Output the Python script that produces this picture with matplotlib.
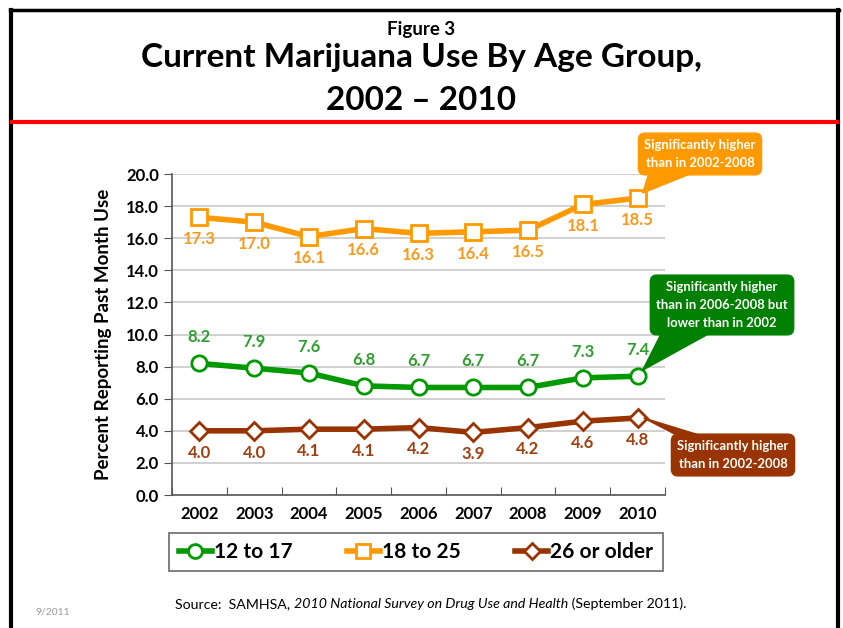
import matplotlib.pyplot as plt
from matplotlib.lines import Line2D
from matplotlib.patches import Polygon

plt.rcParams['font.family'] = ['Lato', 'DejaVu Sans']

years = ['2002', '2003', '2004', '2005', '2006', '2007', '2008', '2009', '2010']
age_12_17 = [8.2, 7.9, 7.6, 6.8, 6.7, 6.7, 6.7, 7.3, 7.4]
age_18_25 = [17.3, 17.0, 16.1, 16.6, 16.3, 16.4, 16.5, 18.1, 18.5]
age_26_up = [4.0, 4.0, 4.1, 4.1, 4.2, 3.9, 4.2, 4.6, 4.8]
yticks = [0, 2, 4, 6, 8, 10, 12, 14, 16, 18, 20]

green, orange, brown = '#009900', '#FF9900', '#993300'
green_txt, orange_txt, brown_txt = '#2E9E2E', '#F79A1E', '#A0400F'

W, H = 843, 628
fig = plt.figure(figsize=(W / 100, H / 100), dpi=100)

def fx(px):
    return px / W

def fy(py):
    return 1 - py / H

# outer frame + red rule
fig.add_artist(Line2D([fx(11), fx(11)], [0, fy(10)], color='black', lw=3))
fig.add_artist(Line2D([fx(838), fx(838)], [0, fy(10)], color='black', lw=3))
fig.add_artist(Line2D([fx(10), fx(839)], [fy(10), fy(10)], color='black', lw=2.5))
fig.add_artist(Line2D([fx(12), fx(837)], [fy(122), fy(122)], color='#FF0000', lw=3))

fig.text(0.5, fy(30), 'Figure 3', ha='center', va='center', fontsize=13.5, fontweight='bold')
fig.text(0.5, fy(58), 'Current Marijuana Use By Age Group,', ha='center', va='center',
         fontsize=24, fontweight='bold')
fig.text(0.5, fy(100), '2002 \u2013 2010', ha='center', va='center', fontsize=24, fontweight='bold')

ax = fig.add_axes([fx(172), fy(495), fx(665) - fx(172), fy(174) - fy(495)])
x = [i + 0.5 for i in range(len(years))]

ax.plot(x, age_12_17, color=green, lw=4, marker='o', ms=11, mfc='white', mec=green, mew=2, zorder=3)
ax.plot(x, age_18_25, color=orange, lw=4, marker='s', ms=11, mfc='white', mec=orange, mew=2, zorder=3)
ax.plot(x, age_26_up, color=brown, lw=4, marker='D', ms=9, mfc='white', mec=brown, mew=2, zorder=3)

for xi, v in zip(x, age_12_17):
    ax.annotate(f'{v:.1f}', (xi, v), xytext=(0, 13), textcoords='offset points', ha='center',
                va='bottom', color=green_txt, fontsize=12, fontweight='bold')
for xi, v in zip(x, age_18_25):
    ax.annotate(f'{v:.1f}', (xi, v), xytext=(0, -10), textcoords='offset points', ha='center',
                va='top', color=orange_txt, fontsize=12, fontweight='bold')
for xi, v in zip(x, age_26_up):
    ax.annotate(f'{v:.1f}', (xi, v), xytext=(0, -10), textcoords='offset points', ha='center',
                va='top', color=brown_txt, fontsize=12, fontweight='bold')

ax.set_xlim(0, len(years))
ax.set_ylim(0, 20)
ax.set_yticks(yticks)
ax.set_yticklabels([f'{t:.1f}' for t in yticks], fontsize=12, fontweight='bold')
ax.set_xticks(range(len(years) + 1))
ax.set_xticklabels([])
ax.set_xticks(x, minor=True)
ax.set_xticklabels(years, minor=True, fontsize=12, fontweight='bold')
ax.tick_params(axis='x', which='minor', length=0, pad=8)
ax.tick_params(axis='x', which='major', direction='in', length=6, color='#555555')
ax.tick_params(axis='y', direction='out', length=6, color='#555555')
ax.grid(axis='y', color='#C8C8C8', lw=1.2)
ax.set_axisbelow(True)
for s in ['top', 'right']:
    ax.spines[s].set_visible(False)
for s in ['left', 'bottom']:
    ax.spines[s].set_color('#555555')
    ax.spines[s].set_linewidth(1.2)
ax.set_ylabel('Percent Reporting Past Month Use', fontsize=13.5, fontweight='bold', labelpad=10)

# callouts: rounded box + wedge pointing at the 2010 marker
def callout(text, xi, v, px, py, fc, base, nudge):
    fig.text(fx(px), fy(py), text, ha='center', va='center', color='white', fontsize=9.4,
             fontweight='bold', linespacing=1.6, zorder=6,
             bbox=dict(boxstyle='round,pad=0.45,rounding_size=0.5', fc=fc, ec=fc))
    tx, ty = ax.transData.transform((xi, v))
    pts = [(tx + nudge[0], ty + nudge[1])] + [(bx, H - by) for bx, by in base]
    fig.add_artist(Polygon(pts, closed=True, transform=None, fc=fc, ec=fc, zorder=5))

callout('Significantly higher\nthan in 2002-2008', x[-1], age_18_25[-1], 700, 154, orange,
        [(650, 170), (700, 170)], (5, 5))
callout('Significantly higher\nthan in 2006-2008 but\nlower than in 2002', x[-1], age_12_17[-1],
        722, 305, '#008000', [(662, 332), (712, 332)], (5, 6))
callout('Significantly higher\nthan in 2002-2008', x[-1], age_26_up[-1], 733, 455, '#993300',
        [(690, 442), (722, 442)], (6, 0))

handles = [
    Line2D([], [], color=green, lw=4, marker='o', ms=10, mfc='white', mec=green, mew=2),
    Line2D([], [], color=orange, lw=4, marker='s', ms=10, mfc='white', mec=orange, mew=2),
    Line2D([], [], color=brown, lw=4, marker='D', ms=8, mfc='white', mec=brown, mew=2),
]
leg = fig.legend(handles, ['12 to 17', '18 to 25', '26 or older'], loc='center',
                 bbox_to_anchor=(fx(416), fy(552)), ncol=3, frameon=True, fancybox=False,
                 prop={'size': 15, 'weight': 'bold'}, handlelength=1.6, handletextpad=0.1,
                 columnspacing=2.6, borderpad=0.45)
leg.get_frame().set_edgecolor('#444444')
leg.get_frame().set_linewidth(1.2)

# source line, pieces laid end to end
renderer = fig.canvas.get_renderer()
pieces = [('Source:  SAMHSA, ', 'normal'),
          ('2010 National Survey on Drug Use and Health', 'italic'),
          (' (September 2011).', 'normal')]
xpos = 175
for txt, st in pieces:
    t = fig.text(fx(xpos), fy(604), txt, ha='left', va='center', fontsize=10.2, style=st)
    xpos += t.get_window_extent(renderer).width
fig.text(fx(35), fy(612), '9/2011', ha='left', va='center', fontsize=7.5, color='#999999')

fig.savefig('out.png', dpi=100)
